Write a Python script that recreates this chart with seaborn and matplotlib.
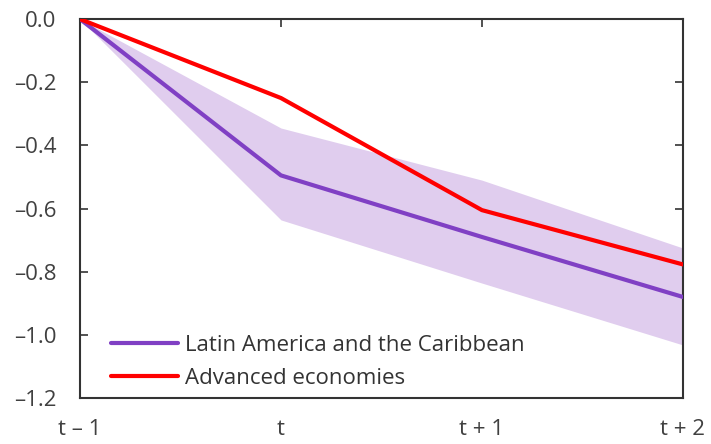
import numpy as np
import pandas as pd
import seaborn as sns
from matplotlib import pyplot as plt

periods = ["t \u2013 1", "t", "t + 1", "t + 2"]
latam = [0.0, -0.495, -0.69, -0.88]
latam_upper = [0.0, -0.345, -0.51, -0.725]
latam_lower = [0.0, -0.636, -0.836, -1.032]
advanced = [0.0, -0.25, -0.605, -0.777]
yticks = [-1.2, -1.0, -0.8, -0.6, -0.4, -0.2, 0.0]

sns.set_style("white")
plt.rcParams['font.family'] = ['Open Sans', 'DejaVu Sans']

df = pd.DataFrame({
    "x": list(range(len(periods))) * 2,
    "value": latam + advanced,
    "group": ["Latin America and the Caribbean"] * 4 + ["Advanced economies"] * 4,
})

fig = plt.figure(figsize=(7.11, 4.44), dpi=100)
ax = fig.add_axes([0.1125, 0.1036, 0.848, 0.8534])

xs = np.arange(len(periods))
ax.fill_between(xs, latam_lower, latam_upper, color="#e0cdee", linewidth=0, zorder=1)
sns.lineplot(data=df, x="x", y="value", hue="group",
             palette={"Latin America and the Caribbean": "#8040c4",
                      "Advanced economies": "#ff0000"},
             linewidth=3, ax=ax, zorder=3)

ax.set_xlim(0, 3)
ax.set_ylim(-1.2, 0.0)
ax.set_yticks(yticks)
ax.set_yticklabels([("%.1f" % abs(v)) if v == 0 else ("\u2013%.1f" % abs(v)) for v in yticks])
ax.set_xticks(xs)
ax.set_xticklabels(periods)
ax.set_xlabel("")
ax.set_ylabel("")

ax.tick_params(axis="y", direction="in", length=6, width=1.2, colors="#333333",
               labelsize=16, right=True, left=True, pad=17)
ax.tick_params(axis="y", labelcolor="#404040")
ax.tick_params(axis="x", direction="in", length=6, width=1.2, colors="#333333",
               labelsize=16, top=True, bottom=False, pad=15)
ax.tick_params(axis="x", labelcolor="#404040")

for side in ["left", "bottom", "right", "top"]:
    ax.spines[side].set_visible(True)
    ax.spines[side].set_color("#333333")
    ax.spines[side].set_linewidth(1.5)

leg = ax.legend(loc="lower left", frameon=False, fontsize=16, handlelength=3.0,
                handletextpad=0.3, borderaxespad=0.0, labelspacing=0.55,
                bbox_to_anchor=(0.037, 0.0))
for t in leg.get_texts():
    t.set_color("#333333")

plt.savefig("out.png", dpi=100)
